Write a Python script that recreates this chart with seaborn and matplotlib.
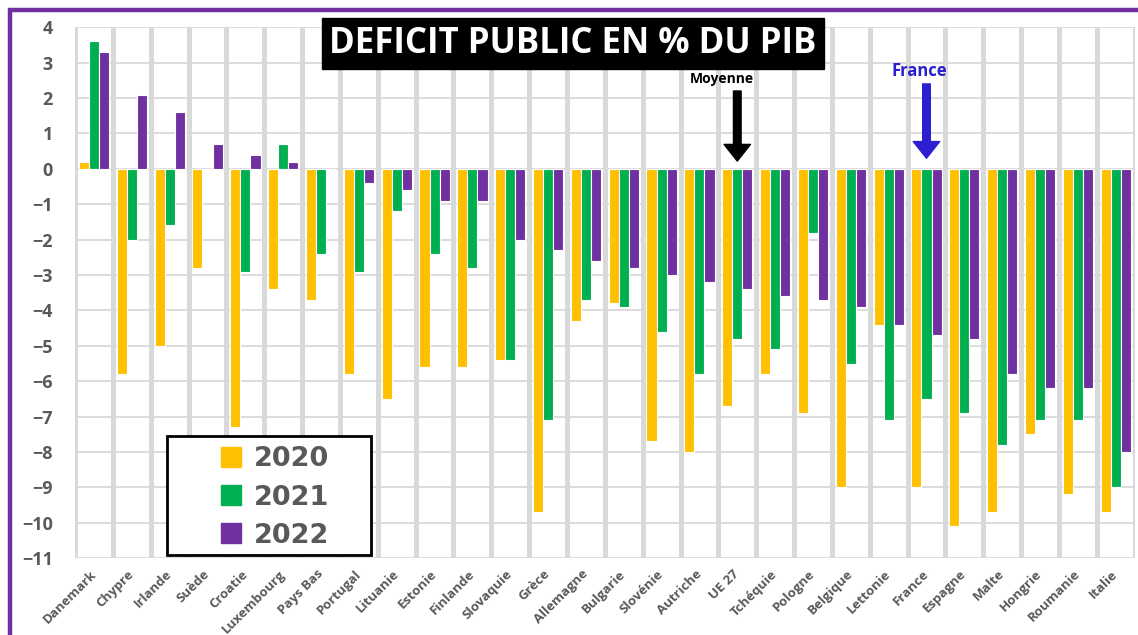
import numpy as np
import pandas as pd
import matplotlib
matplotlib.use("Agg")
import matplotlib.pyplot as plt
from matplotlib.lines import Line2D
from matplotlib.patches import Rectangle
import seaborn as sns

# données (déficit public en % du PIB)
pays = ["Danemark", "Chypre", "Irlande", "Suède", "Croatie", "Luxembourg", "Pays Bas",
        "Portugal", "Lituanie", "Estonie", "Finlande", "Slovaquie", "Grèce", "Allemagne",
        "Bulgarie", "Slovénie", "Autriche", "UE 27", "Tchéquie", "Pologne", "Belgique",
        "Lettonie", "France", "Espagne", "Malte", "Hongrie", "Roumanie", "Italie"]
annees = ["2020", "2021", "2022"]
v2020 = [0.2, -5.8, -5.0, -2.8, -7.3, -3.4, -3.7, -5.8, -6.5, -5.6, -5.6, -5.4, -9.7, -4.3,
         -3.8, -7.7, -8.0, -6.7, -5.8, -6.9, -9.0, -4.4, -9.0, -10.1, -9.7, -7.5, -9.2, -9.7]
v2021 = [3.6, -2.0, -1.6, 0.0, -2.9, 0.7, -2.4, -2.9, -1.2, -2.4, -2.8, -5.4, -7.1, -3.7,
         -3.9, -4.6, -5.8, -4.8, -5.1, -1.8, -5.5, -7.1, -6.5, -6.9, -7.8, -7.1, -7.1, -9.0]
v2022 = [3.3, 2.1, 1.6, 0.7, 0.4, 0.2, 0.0, -0.4, -0.6, -0.9, -0.9, -2.0, -2.3, -2.6,
         -2.8, -3.0, -3.2, -3.4, -3.6, -3.7, -3.9, -4.4, -4.7, -4.8, -5.8, -6.2, -6.2, -8.0]
couleurs = ["#FFC000", "#00B050", "#7030A0"]
y_ticks = list(range(-11, 5))

df = pd.DataFrame({
    "pays": pays * 3,
    "annee": sum([[a] * len(pays) for a in annees], []),
    "valeur": v2020 + v2021 + v2022,
})

sns.set_style("white")
plt.rcParams["font.family"] = ["Open Sans", "DejaVu Sans"]

fig = plt.figure(figsize=(11.38, 6.35), dpi=100)
ax = fig.add_axes([0.066, 0.121, 0.931, 0.836])

# barres
sns.barplot(data=df, x="pays", y="valeur", hue="annee", hue_order=annees,
            palette=couleurs, saturation=1, width=0.8, errorbar=None, edgecolor="white",
            linewidth=0.8, legend=False, ax=ax, zorder=3)

# quadrillage : lignes horizontales fines + séparateurs verticaux épais
ax.set_ylim(-11, 4)
ax.set_xlim(-0.5, len(pays) - 0.5)
ax.set_yticks(y_ticks)
ax.yaxis.grid(True, color="#d9d9d9", lw=1.3)
ax.set_axisbelow(True)
ax.vlines(np.arange(-0.5, len(pays), 1), -11, 4, color="#d9d9d9", lw=3.6, zorder=1)
for s in ax.spines.values():
    s.set_visible(False)

ax.set_xlabel("")
ax.set_ylabel("")
ax.tick_params(axis="both", length=0)
ax.tick_params(axis="y", pad=16)
for t in ax.get_yticklabels():
    t.set_fontsize(13)
    t.set_fontweight("bold")
    t.set_color("#595959")
ax.set_xticks(range(len(pays)))
ax.set_xticklabels(pays, rotation=45, ha="right", va="center", rotation_mode="anchor",
                   fontsize=9.5, fontweight="bold", color="#595959")
ax.tick_params(axis="x", pad=10)

# légende : cadre noir dessiné à part, contenu centré
ax.add_patch(Rectangle((0.087, 0.006), 0.192, 0.224, transform=ax.transAxes,
                       facecolor="white", edgecolor="black", lw=2, zorder=9))
handles = [Line2D([], [], marker="s", linestyle="", markersize=14, color=c) for c in couleurs]
leg = ax.legend(handles, annees, loc="center", bbox_to_anchor=(0.187, 0.114),
                frameon=False, prop={"family": "DejaVu Sans", "size": 19.5, "weight": "bold"},
                labelspacing=0.45, handlelength=1.0, handletextpad=0.35, borderaxespad=0)
for t in leg.get_texts():
    t.set_color("#595959")
leg.set_zorder(10)

# flèches Moyenne / France
i_ue = pays.index("UE 27")
i_fr = pays.index("France")
ax.annotate("", xy=(i_ue, 0.22), xytext=(i_ue, 2.2),
            arrowprops=dict(width=5.5, headwidth=19, headlength=12, shrink=0, color="black"),
            zorder=6)
ax.text(i_ue - 0.4, 2.55, "Moyenne", ha="center", va="center", fontsize=10,
        fontweight="bold", color="black", zorder=6)
ax.annotate("", xy=(i_fr, 0.3), xytext=(i_fr, 2.4),
            arrowprops=dict(width=5.5, headwidth=19, headlength=12, shrink=0, color="#2B1FD0"),
            zorder=6)
ax.text(i_fr - 0.2, 2.77, "France", ha="center", va="center", fontsize=12,
        fontweight="bold", color="#2B1FD0", zorder=6)

# titre dans un cadre noir
fig.text(0.5035, 0.931, "DEFICIT PUBLIC EN % DU PIB", ha="center", va="center",
         fontsize=25, fontweight="bold", color="white",
         bbox=dict(boxstyle="square,pad=0.22", facecolor="black", edgecolor="black"))

# cadre violet autour de la figure (bords droit et bas hors image)
fig.patches.append(Rectangle((9.5 / 1138, -0.1), 1.2, 1.1 - 10 / 635,
                             transform=fig.transFigure, fill=False,
                             edgecolor="#7030A0", lw=3.2, zorder=0))

fig.savefig("out.png", dpi=100)
plt.close(fig)
